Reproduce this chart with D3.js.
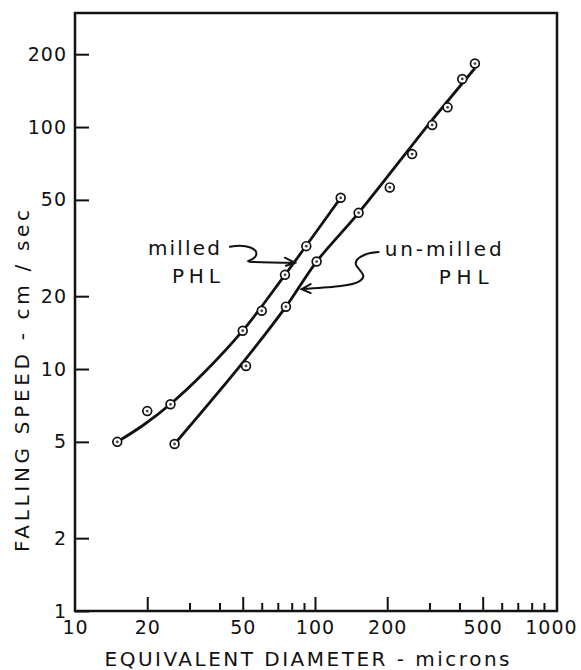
<!DOCTYPE html>
<html lang="en">
<head>
<meta charset="UTF-8">
<title>Falling speed vs equivalent diameter</title>
<script src="https://d3js.org/d3.v7.min.js"></script>
<style>
  body { margin: 0; background: #fff; }
  text { font-family: "DejaVu Sans", sans-serif; fill: #111; }
  .frame { fill: none; stroke: #111; stroke-width: 2.5; }
  .tick line { stroke: #111; stroke-width: 2; }
  .tick text { font-size: 19px; letter-spacing: 1px; }
  .fit { fill: none; stroke: #111; stroke-width: 2.8; }
  .pt { fill: #fff; stroke: #111; stroke-width: 1.7; }
  .dot { fill: #444; }
  .note { fill: none; stroke: #111; stroke-width: 2; stroke-linecap: round; }
</style>
</head>
<body>
<svg width="581" height="670"></svg>
<script>
// measured points (diameter in microns, falling speed in cm/sec)
const milledX = [15, 20, 25, 50, 60, 75, 92, 128];
const milledY = [5.0, 6.7, 7.15, 14.4, 17.4, 24.5, 32.2, 51];
const unmilledX = [26, 51.6, 75.7, 101.6, 152, 205, 254, 308, 357, 411, 464];
const unmilledY = [4.9, 10.3, 18.1, 27.8, 44.2, 56.3, 77.3, 102, 120.6, 158, 183];

// hand drawn curves through the points
const milledFitX = [15, 19.3, 25.3, 34.3, 50, 75, 128];
const milledFitY = [5.0, 5.87, 7.24, 9.6, 14.4, 24.5, 51];
const unmilledFitX = [26, 50.3, 75.7, 101.6, 152, 300, 464];
const unmilledFitY = [4.9, 10.7, 18.1, 27.8, 44.2, 103.6, 175];

// axis ticks
const xTickLabels = [10, 20, 50, 100, 200, 500, 1000];
const xTicksMajor = [20, 50, 100, 200, 500];
const xTicksMinor = [30, 40, 60, 70, 80, 90, 300, 400, 600, 700, 800, 900];
const yTickLabels = [1, 2, 5, 10, 20, 50, 100, 200];

const svg = d3.select("svg"),
      margin = {top: 13, right: 24, bottom: 59, left: 75},
      width = +svg.attr("width") - margin.left - margin.right,
      height = +svg.attr("height") - margin.top - margin.bottom,
      g = svg.append("g").attr("transform", `translate(${margin.left},${margin.top})`);

const x = d3.scaleLog().domain([10, 1020]).range([0, width]);
const y = d3.scaleLog().domain([1, 296]).range([height, 0]);

// x axis: labels, tall ticks, short ticks (ticks point inward)
g.append("g")
 .attr("transform", `translate(0,${height})`)
 .call(d3.axisBottom(x).tickValues(xTickLabels).tickSize(0).tickPadding(10).tickFormat(d3.format("d")))
 .call(a => a.select(".domain").remove())
 .call(a => a.selectAll(".tick text").filter(d => d === 1000).attr("dx", -4));

g.append("g")
 .attr("transform", `translate(0,${height})`)
 .call(d3.axisBottom(x).tickValues(xTicksMajor).tickSize(-14).tickFormat(""))
 .call(a => a.select(".domain").remove());

g.append("g")
 .attr("transform", `translate(0,${height})`)
 .call(d3.axisBottom(x).tickValues(xTicksMinor).tickSize(-8).tickFormat(""))
 .call(a => a.select(".domain").remove());

// y axis
g.append("g")
 .call(d3.axisLeft(y).tickValues(yTickLabels).tickSize(-14).tickPadding(8).tickFormat(d3.format("d")))
 .call(a => a.select(".domain").remove());

// frame
g.append("rect")
 .attr("class", "frame")
 .attr("width", width)
 .attr("height", height);

// fitted curves
const line = d3.line()
  .x(d => x(d[0]))
  .y(d => y(d[1]))
  .curve(d3.curveCatmullRom.alpha(0.5));

g.append("path")
 .attr("class", "fit")
 .attr("d", line(d3.zip(milledFitX, milledFitY)));

g.append("path")
 .attr("class", "fit")
 .attr("d", line(d3.zip(unmilledFitX, unmilledFitY)));

// data points
const pts = d3.zip(milledX, milledY).concat(d3.zip(unmilledX, unmilledY));

g.selectAll(".pt")
 .data(pts)
 .join("circle")
 .attr("class", "pt")
 .attr("cx", d => x(d[0]))
 .attr("cy", d => y(d[1]))
 .attr("r", 4.4);

g.selectAll(".dot")
 .data(pts)
 .join("circle")
 .attr("class", "dot")
 .attr("cx", d => x(d[0]))
 .attr("cy", d => y(d[1]))
 .attr("r", 1.4);

// annotation arrows, drawn relative to the arrow tip
const milledTip = g.append("g").attr("transform", `translate(${x(82.5)},${y(27.5)})`);
milledTip.append("path")
 .attr("class", "note")
 .attr("d", "M-65,-16 C-48,-19 -36,-14 -39,-7 C-41,-2 -51,-2 -45,-1 C-30,0 -15,0 0,0 M-10,-5 L0,0 L-9,3");
milledTip.append("text")
 .attr("x", -75).attr("y", -8)
 .attr("text-anchor", "end")
 .attr("font-size", 20)
 .attr("textLength", 72)
 .text("milled");
milledTip.append("text")
 .attr("x", -123).attr("y", 20)
 .attr("font-size", 20)
 .attr("textLength", 48)
 .text("PHL");

const unmilledTip = g.append("g").attr("transform", `translate(${x(88)},${y(21.4)})`);
unmilledTip.append("path")
 .attr("class", "note")
 .attr("d", "M77,-37 C62,-36 51,-30 55,-23 C59,-17 66,-13 58,-8 C50,-3 30,-2 0,0 M9,-5 L0,0 L9,4");
unmilledTip.append("text")
 .attr("x", 83).attr("y", -33)
 .attr("font-size", 20)
 .attr("textLength", 117)
 .text("un-milled");
unmilledTip.append("text")
 .attr("x", 137).attr("y", -5)
 .attr("font-size", 20)
 .attr("textLength", 50)
 .text("PHL");

// axis titles
svg.append("text")
 .attr("x", 307)
 .attr("y", 666)
 .attr("text-anchor", "middle")
 .attr("font-size", 20)
 .attr("textLength", 405)
 .text("EQUIVALENT DIAMETER - microns");

svg.append("text")
 .attr("transform", "translate(29,381) rotate(-90)")
 .attr("text-anchor", "middle")
 .attr("font-size", 20)
 .attr("textLength", 342)
 .text("FALLING SPEED - cm / sec");
</script>
</body>
</html>
